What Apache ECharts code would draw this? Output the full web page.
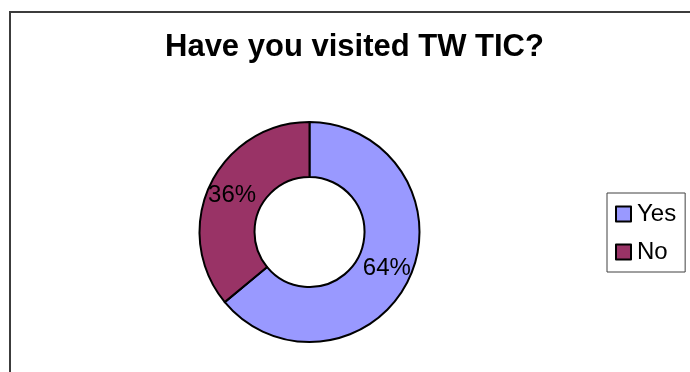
<!DOCTYPE html>
<html>
<head>
<meta charset="utf-8">
<script src="https://cdn.jsdelivr.net/npm/echarts@6/dist/echarts.min.js"></script>
<style>
  html, body { margin: 0; padding: 0; background: #ffffff; }
  #chart { width: 690px; height: 372px; }
</style>
</head>
<body>
<div id="chart"></div>
<script>
// Survey answers and their shares (percent)
const categories = ['Yes', 'No'];
const shares = [64, 36];
const sliceColors = ['#9999FF', '#993366'];
const chartTitle = 'Have you visited TW TIC?';

const font = '"Liberation Sans", Arial, sans-serif';

const chart = echarts.init(document.getElementById('chart'), null, { renderer: 'canvas' });

chart.setOption({
  animation: false,
  backgroundColor: '#ffffff',
  title: {
    text: chartTitle,
    left: 165,
    top: 32,
    padding: 0,
    textStyle: {
      fontFamily: font,
      fontSize: 31,
      fontWeight: 'bold',
      color: '#000000'
    }
  },
  legend: {
    orient: 'vertical',
    left: 607,
    top: 193,
    padding: [9, 9, 8, 8],
    itemGap: 14,
    itemWidth: 15,
    itemHeight: 15,
    icon: 'rect',
    borderColor: '#404040',
    borderWidth: 1,
    data: categories,
    itemStyle: { borderColor: '#000000', borderWidth: 2 },
    textStyle: {
      fontFamily: font,
      fontSize: 24,
      color: '#000000',
      padding: [0, 0, 0, 1]
    }
  },
  graphic: [
    {
      type: 'rect',
      silent: true,
      shape: { x: 10, y: 12, width: 700, height: 400 },
      style: { fill: 'none', stroke: '#3c3c3c', lineWidth: 2 }
    }
  ],
  series: [
    {
      type: 'pie',
      center: [309.5, 232],
      radius: [55, 110],
      startAngle: 90,
      clockwise: true,
      avoidLabelOverlap: false,
      label: {
        show: true,
        position: 'inside',
        formatter: '{c}%',
        fontFamily: font,
        fontSize: 24,
        color: '#000000'
      },
      labelLine: { show: false },
      itemStyle: { borderColor: '#000000', borderWidth: 2 },
      emphasis: { disabled: true },
      data: categories.map((name, i) => ({
        name: name,
        value: shares[i],
        itemStyle: { color: sliceColors[i] }
      }))
    }
  ]
});
</script>
</body>
</html>
